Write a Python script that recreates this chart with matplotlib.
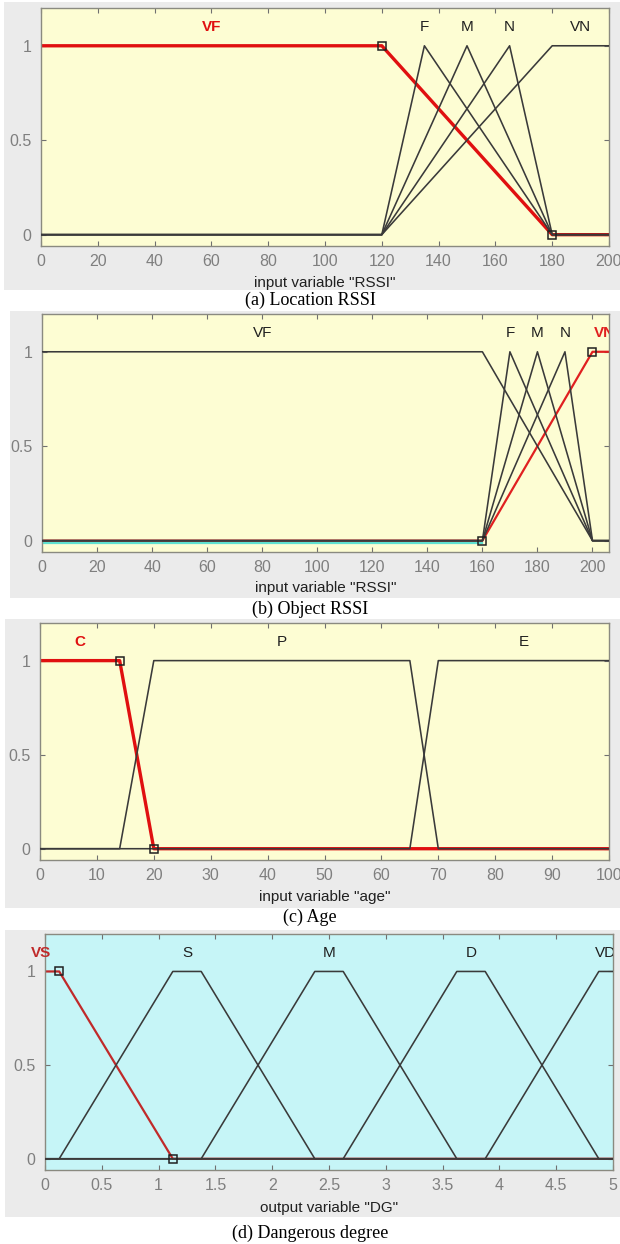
import matplotlib
matplotlib.use("Agg")
import matplotlib.pyplot as plt
from matplotlib.patches import Rectangle

plt.rcParams['font.family'] = ['Liberation Sans', 'DejaVu Sans']

# (a) location RSSI
loc_names = ["VF", "F", "M", "N", "VN"]
loc_xs = [[0, 120, 180, 200], [0, 120, 135, 180, 200], [0, 120, 150, 180, 200],
          [0, 120, 165, 180, 200], [0, 120, 180, 200]]
loc_ys = [[1, 1, 0, 0], [0, 0, 1, 0, 0], [0, 0, 1, 0, 0], [0, 0, 1, 0, 0], [0, 0, 1, 1]]
loc_label_x = [60, 135, 150, 165, 190]
loc_sel = 0
loc_sq_x = [120, 180]
loc_sq_y = [1, 0]
loc_ticks = list(range(0, 201, 20))

# (b) object RSSI
obj_names = ["VF", "F", "M", "N", "VN"]
obj_xs = [[0, 160, 200, 206], [0, 160, 170, 200, 206], [0, 160, 180, 200, 206],
          [0, 160, 190, 200, 206], [0, 160, 200, 206]]
obj_ys = [[1, 1, 0, 0], [0, 0, 1, 0, 0], [0, 0, 1, 0, 0], [0, 0, 1, 0, 0], [0, 0, 1, 1]]
obj_label_x = [80, 170, 180, 190, 204.5]
obj_sel = 4
obj_sq_x = [160, 200]
obj_sq_y = [0, 1]
obj_cyan_x = [0, 160]
obj_cyan_y = [-0.013, -0.013]
obj_ticks = list(range(0, 201, 20))

# (c) age
age_names = ["C", "P", "E"]
age_xs = [[0, 14, 20, 100], [0, 14, 20, 65, 70, 100], [0, 65, 70, 100]]
age_ys = [[1, 1, 0, 0], [0, 0, 1, 1, 0, 0], [0, 0, 1, 1]]
age_label_x = [7, 42.5, 85]
age_sel = 0
age_sq_x = [14, 20]
age_sq_y = [1, 0]
age_ticks = list(range(0, 101, 10))

# (d) dangerous degree
dg_names = ["VS", "S", "M", "D", "VD"]
dg_xs = [[0, 0.125, 1.125, 5], [0, 0.125, 1.125, 1.375, 2.375, 5],
         [0, 1.375, 2.375, 2.625, 3.625, 5], [0, 2.625, 3.625, 3.875, 4.875, 5],
         [0, 3.875, 4.875, 5]]
dg_ys = [[1, 1, 0, 0], [0, 0, 1, 1, 0, 0], [0, 0, 1, 1, 0, 0], [0, 0, 1, 1, 0, 0], [0, 0, 1, 1]]
dg_label_x = [-0.035, 1.25, 2.5, 3.75, 4.93]
dg_sel = 0
dg_sq_x = [0.125, 1.125]
dg_sq_y = [1, 0]
dg_ticks = [0, 0.5, 1, 1.5, 2, 2.5, 3, 3.5, 4, 4.5, 5]
dg_ticklabels = ["0", "0.5", "1", "1.5", "2", "2.5", "3", "3.5", "4", "4.5", "5"]

W, H = 620, 1244
fig = plt.figure(figsize=(W / 100, H / 100), dpi=100)
fig.patch.set_facecolor("white")


def rect(x0, x1, ytop, ybot):
    return [x0 / W, 1 - ybot / H, (x1 - x0) / W, (ybot - ytop) / H]


def panel(pos, bg, face, xs, ys, names, lab_x, sel, sq_x, sq_y, xlim, ticks, ticklabels,
          xlabel, caption, cap_y, xlab_y, red="#e01010", red_lw=2.4, clip_sel=True):
    r = rect(*bg)
    fig.add_artist(Rectangle((r[0], r[1]), r[2], r[3], transform=fig.transFigure,
                             facecolor="#ebebeb", edgecolor="none", zorder=0))
    ax = fig.add_axes(rect(*pos))
    ax.set_facecolor(face)
    ax.plot(xs[sel], ys[sel], color=red, lw=red_lw, zorder=2, solid_joinstyle="round")
    for i in range(len(names)):
        if i != sel:
            ax.plot(xs[i], ys[i], color="#3a3a3a", lw=1.15, zorder=3)
    ax.plot(sq_x, sq_y, ls="none", marker="s", ms=6, mfc="none", mec="#202020",
            mew=1.1, zorder=4, clip_on=False)
    for i, nm in enumerate(names):
        if i == sel:
            ax.text(lab_x[i], 1.1, nm, color=red, fontsize=11, fontweight="bold",
                    ha="center", va="center", clip_on=clip_sel)
        else:
            ax.text(lab_x[i], 1.1, nm, color="#202020", fontsize=11,
                    ha="center", va="center", clip_on=True)
    ax.set_xlim(*xlim)
    ax.set_ylim(-0.06, 1.2)
    ax.set_xticks(ticks)
    ax.set_xticklabels(ticklabels)
    ax.set_yticks([0, 0.5, 1])
    ax.set_yticklabels(["0", "0.5", "1"])
    ax.tick_params(direction="in", length=3.5, width=0.8, color="#707070",
                   labelcolor="#7f7f7f", labelsize=11.5, top=True, right=True)
    ax.tick_params(axis="x", pad=6)
    ax.tick_params(axis="y", pad=7)
    for s in ax.spines.values():
        s.set_color("#8a8a80")
        s.set_linewidth(1.0)
    fig.text((pos[0] + pos[1]) / 2 / W, 1 - xlab_y / H, xlabel, ha="center", va="center",
             fontsize=11, color="#202020")
    fig.text(0.5, 1 - cap_y / H, caption, ha="center", va="center", fontsize=13,
             family=["Liberation Serif", "DejaVu Serif"])
    return ax


panel((41, 609, 8, 246), (4, 620, 2, 290), "#fdfdd3", loc_xs, loc_ys, loc_names,
      loc_label_x, loc_sel, loc_sq_x, loc_sq_y, (0, 200), loc_ticks,
      [str(t) for t in loc_ticks], 'input variable "RSSI"', "(a) Location RSSI", 300, 283)

axb = panel((42, 609, 314, 552), (10, 620, 311, 598), "#fdfdd3", obj_xs, obj_ys, obj_names,
            obj_label_x, obj_sel, obj_sq_x, obj_sq_y, (0, 206), obj_ticks,
            [str(t) for t in obj_ticks], 'input variable "RSSI"', "(b) Object RSSI", 609, 588,
            red="#e02020", red_lw=1.6)
axb.plot(obj_cyan_x, obj_cyan_y, color="#5fe0d0", lw=1.6, zorder=2)

panel((40, 609, 623, 860), (5, 620, 619, 908), "#fdfdd3", age_xs, age_ys, age_names,
      age_label_x, age_sel, age_sq_x, age_sq_y, (0, 100), age_ticks,
      [str(t) for t in age_ticks], 'input variable "age"', "(c) Age", 917, 897)

panel((45, 613, 934, 1170), (5, 620, 930, 1217), "#c6f5f7", dg_xs, dg_ys, dg_names,
      dg_label_x, dg_sel, dg_sq_x, dg_sq_y, (0, 5), dg_ticks, dg_ticklabels,
      'output variable "DG"', "(d) Dangerous degree", 1233, 1208,
      red="#c02a2a", red_lw=1.6, clip_sel=False)

fig.savefig("out.png", dpi=100)
